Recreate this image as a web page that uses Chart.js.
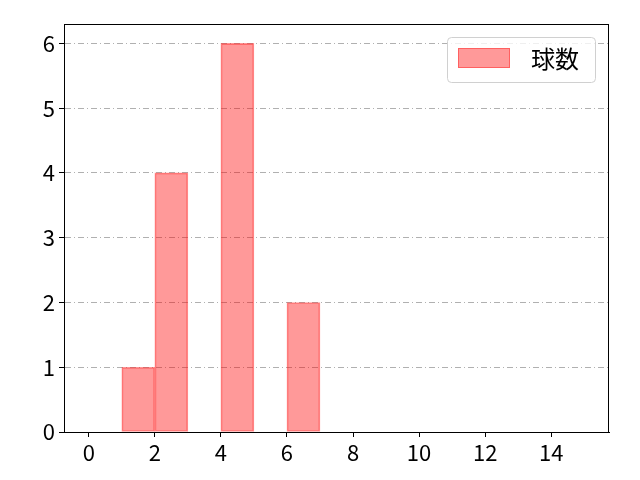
<!DOCTYPE html>
<html><head><meta charset="utf-8">
<script src="https://cdn.jsdelivr.net/npm/chart.js@4/dist/chart.umd.min.js"></script>
<style>html,body{margin:0;padding:0;background:#fff}#wrap{width:640px;height:480px}</style>
</head><body><div id="wrap"><canvas id="c" width="640" height="480"></canvas></div>
<script>
const binCenters = [1.5, 2.5, 4.5, 6.5];
const counts = [1, 4, 6, 2];
const seriesLabel = '球数';
const xTicks = [0, 2, 4, 6, 8, 10, 12, 14];
const yTicks = [0, 1, 2, 3, 4, 5, 6];

const FONT = '"Noto Sans CJK JP", "DejaVu Sans", sans-serif';

const framePlugin = {
  id: 'frame',
  afterDatasetsDraw(chart) {
    const {ctx, chartArea: a} = chart;
    ctx.save();
    ctx.strokeStyle = '#000';
    ctx.lineWidth = 1;
    ctx.strokeRect(a.left + 0.5, a.top + 0.5, a.right - a.left - 1, a.bottom - a.top);
    ctx.restore();
  },
  afterDraw(chart) {
    const {ctx, chartArea: a} = chart;
    const ds = chart.data.datasets[0];
    ctx.save();
    const bx = a.right - 162, by = a.top + 13, bw = 148, bh = 45;
    ctx.fillStyle = 'rgba(255,255,255,0.8)';
    ctx.strokeStyle = '#d0d0d0';
    ctx.lineWidth = 1;
    ctx.beginPath();
    ctx.roundRect(bx + 0.5, by + 0.5, bw, bh, 4);
    ctx.fill(); ctx.stroke();
    ctx.fillStyle = ds.backgroundColor;
    ctx.fillRect(bx + 11, by + 11, 52, 20);
    ctx.strokeStyle = ds.borderColor;
    ctx.strokeRect(bx + 11.5, by + 11.5, 51, 19);
    ctx.fillStyle = '#000';
    ctx.font = '24px ' + FONT;
    ctx.textBaseline = 'middle';
    ctx.textAlign = 'left';
    ctx.fillText(ds.label, bx + 84, by + 22);
    ctx.restore();
  }
};

new Chart(document.getElementById('c'), {
  type: 'bar',
  data: {
    datasets: [{
      label: seriesLabel,
      data: binCenters.map((x, i) => ({x: x, y: counts[i]})),
      backgroundColor: 'rgba(255,0,0,0.4)',
      borderColor: 'rgba(255,40,40,0.5)',
      borderWidth: 1,
      borderSkipped: false,
      barPercentage: 1,
      categoryPercentage: 1
    }]
  },
  options: {
    responsive: false,
    animation: false,
    devicePixelRatio: 1,
    layout: {padding: {left: 0, top: 24, right: 31, bottom: 0}},
    plugins: {legend: {display: false}, tooltip: {enabled: false}},
    scales: {
      x: {
        type: 'linear',
        offset: false,
        min: -0.75,
        max: 15.75,
        afterBuildTicks(s) { s.ticks = xTicks.map(v => ({value: v})); },
        afterFit(s) { s.height = 48; },
        ticks: {color: '#000', font: {family: FONT, size: 22}, padding: 2, maxRotation: 0},
        grid: {drawOnChartArea: false, tickLength: 5, color: '#000', offset: false},
        border: {color: '#000', width: 1}
      },
      y: {
        min: 0,
        max: 6.3,
        afterBuildTicks(s) { s.ticks = yTicks.map(v => ({value: v})); },
        afterFit(s) { s.width = 64; },
        ticks: {color: '#000', font: {family: FONT, size: 22}, padding: 4},
        grid: {color: '#b0b0b0', tickLength: 5, tickColor: '#000', lineWidth: 1},
        border: {color: '#000', width: 1, dash: [6, 3, 1, 3]}
      }
    }
  },
  plugins: [framePlugin]
});
</script></body></html>
